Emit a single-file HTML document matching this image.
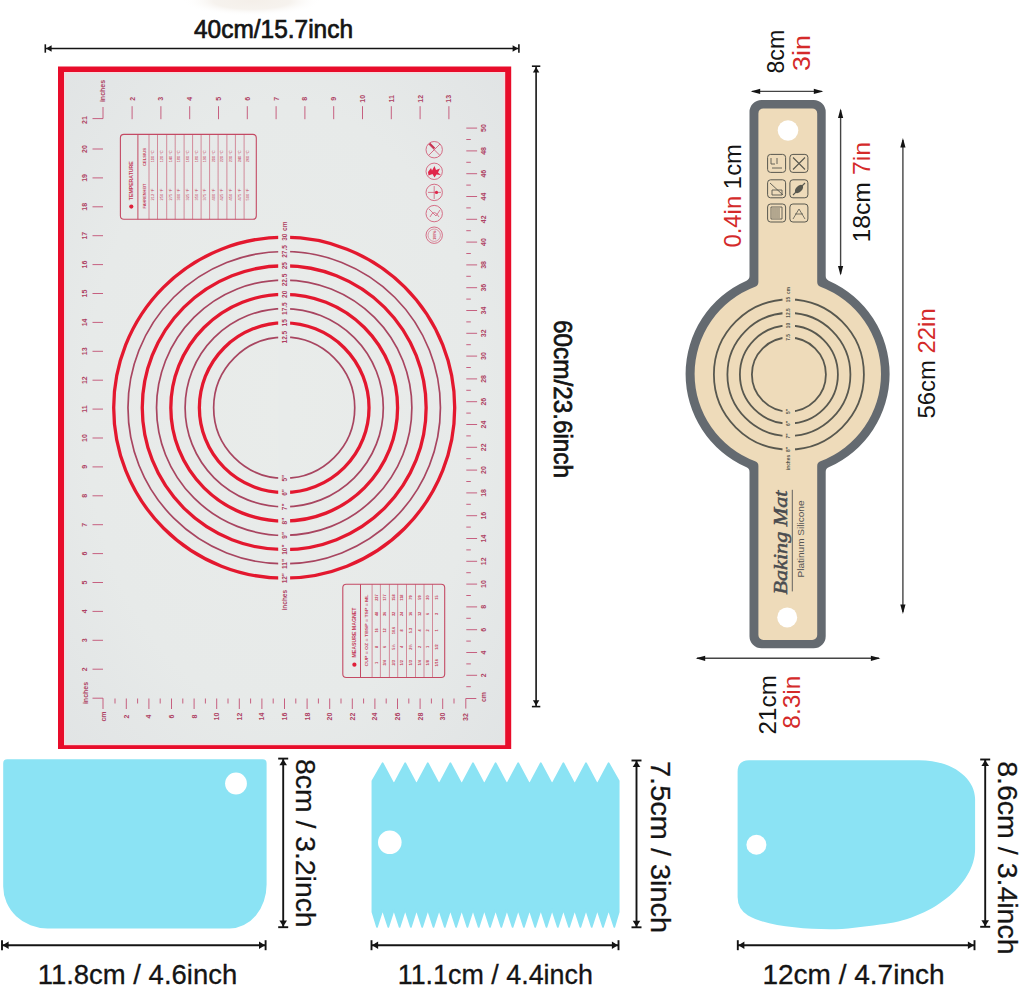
<!DOCTYPE html><html><head><meta charset="utf-8"><style>
html,body{margin:0;padding:0;background:#fff;}
body{width:1024px;height:991px;overflow:hidden;}
svg{display:block;font-family:'Liberation Sans', sans-serif;}
</style></head><body>
<svg width="1024" height="991" viewBox="0 0 1024 991">
<defs>
<radialGradient id="glow" cx="0.5" cy="0.5" r="0.5"><stop offset="0" stop-color="#f4efe9" stop-opacity="1"/><stop offset="0.55" stop-color="#f5f1ec" stop-opacity="0.9"/><stop offset="1" stop-color="#fff" stop-opacity="0"/></radialGradient>
<radialGradient id="matg" cx="0.5" cy="0.5" r="0.75"><stop offset="0" stop-color="#e9ecea"/><stop offset="0.6" stop-color="#e7eae9"/><stop offset="1" stop-color="#e0e3e4"/></radialGradient>
<marker id="ah" viewBox="0 0 10 10" refX="10" refY="5" markerWidth="6" markerHeight="6" orient="auto-start-reverse"><path d="M0,0L10,5L0,10z" fill="#141414"/></marker>
</defs>
<rect width="1024" height="991" fill="#fff"/>
<ellipse cx="252" cy="1" rx="70" ry="15" fill="url(#glow)"/>

<line x1="45.3" y1="48.5" x2="518.9" y2="48.5" stroke="#141414" stroke-width="1.6"/><path d="M46.099999999999994,48.5L51.599999999999994,45.3L51.599999999999994,51.7z" fill="#141414"/><path d="M518.1,48.5L512.6,45.3L512.6,51.7z" fill="#141414"/><line x1="45.3" y1="44.3" x2="45.3" y2="52.7" stroke="#141414" stroke-width="1.6"/><line x1="518.9" y1="44.3" x2="518.9" y2="52.7" stroke="#141414" stroke-width="1.6"/>
<text x="273.5" y="38" text-anchor="middle" font-size="25" fill="#141414" stroke="#141414" stroke-width="0.7" textLength="159" lengthAdjust="spacingAndGlyphs">40cm/15.7inch</text>
<line x1="536.1" y1="66.2" x2="536.1" y2="706.6" stroke="#141414" stroke-width="1.6"/><path d="M536.1,67.0L532.9,72.5L539.3000000000001,72.5z" fill="#141414"/><path d="M536.1,705.8000000000001L532.9,700.3000000000001L539.3000000000001,700.3000000000001z" fill="#141414"/><line x1="531.9" y1="66.2" x2="540.3000000000001" y2="66.2" stroke="#141414" stroke-width="1.6"/><line x1="531.9" y1="706.6" x2="540.3000000000001" y2="706.6" stroke="#141414" stroke-width="1.6"/>
<text transform="translate(562.50,399.00) rotate(90)" text-anchor="middle" dominant-baseline="central" font-size="25" font-weight="normal" fill="#141414" textLength="158" lengthAdjust="spacingAndGlyphs" stroke="#141414" stroke-width="0.7">60cm/23.6inch</text>
<rect x="58" y="66.5" width="453.2" height="682.5" fill="#e80c2a"/>
<rect x="64" y="72" width="441.1" height="673.1" fill="url(#matg)"/>
<rect x="64.8" y="72.8" width="439.5" height="671.5" fill="none" stroke="#f5dbe0" stroke-width="1.6"/>
<circle cx="284.2" cy="407.7" r="170.5" fill="none" stroke="#e3182f" stroke-width="3.3"/>
<circle cx="284.2" cy="407.7" r="156.22" fill="none" stroke="#a84560" stroke-width="1.7"/>
<circle cx="284.2" cy="407.7" r="141.94" fill="none" stroke="#e3182f" stroke-width="3.3"/>
<circle cx="284.2" cy="407.7" r="127.66" fill="none" stroke="#a84560" stroke-width="1.7"/>
<circle cx="284.2" cy="407.7" r="113.38" fill="none" stroke="#e3182f" stroke-width="3.3"/>
<circle cx="284.2" cy="407.7" r="99.10000000000001" fill="none" stroke="#a84560" stroke-width="1.7"/>
<circle cx="284.2" cy="407.7" r="84.82000000000001" fill="none" stroke="#e3182f" stroke-width="3.3"/>
<circle cx="284.2" cy="407.7" r="70.54" fill="none" stroke="#a84560" stroke-width="1.7"/>
<rect x="278.2" y="230" width="11.9" height="356" fill="#e8ebea"/>
<text transform="translate(284.20,237.20) rotate(-90)" text-anchor="middle" dominant-baseline="central" font-size="6.5" font-weight="bold" fill="#ae3f62" >30</text>
<text transform="translate(284.20,578.20) rotate(-90)" text-anchor="middle" dominant-baseline="central" font-size="6.5" font-weight="bold" fill="#ae3f62" >12"</text>
<text transform="translate(284.20,251.48) rotate(-90)" text-anchor="middle" dominant-baseline="central" font-size="6.5" font-weight="bold" fill="#ae3f62" >27.5</text>
<text transform="translate(284.20,563.92) rotate(-90)" text-anchor="middle" dominant-baseline="central" font-size="6.5" font-weight="bold" fill="#ae3f62" >11"</text>
<text transform="translate(284.20,265.76) rotate(-90)" text-anchor="middle" dominant-baseline="central" font-size="6.5" font-weight="bold" fill="#ae3f62" >25</text>
<text transform="translate(284.20,549.64) rotate(-90)" text-anchor="middle" dominant-baseline="central" font-size="6.5" font-weight="bold" fill="#ae3f62" >10"</text>
<text transform="translate(284.20,280.04) rotate(-90)" text-anchor="middle" dominant-baseline="central" font-size="6.5" font-weight="bold" fill="#ae3f62" >22.5</text>
<text transform="translate(284.20,535.36) rotate(-90)" text-anchor="middle" dominant-baseline="central" font-size="6.5" font-weight="bold" fill="#ae3f62" >9"</text>
<text transform="translate(284.20,294.32) rotate(-90)" text-anchor="middle" dominant-baseline="central" font-size="6.5" font-weight="bold" fill="#ae3f62" >20</text>
<text transform="translate(284.20,521.08) rotate(-90)" text-anchor="middle" dominant-baseline="central" font-size="6.5" font-weight="bold" fill="#ae3f62" >8"</text>
<text transform="translate(284.20,308.60) rotate(-90)" text-anchor="middle" dominant-baseline="central" font-size="6.5" font-weight="bold" fill="#ae3f62" >17.5</text>
<text transform="translate(284.20,506.80) rotate(-90)" text-anchor="middle" dominant-baseline="central" font-size="6.5" font-weight="bold" fill="#ae3f62" >7"</text>
<text transform="translate(284.20,322.88) rotate(-90)" text-anchor="middle" dominant-baseline="central" font-size="6.5" font-weight="bold" fill="#ae3f62" >15</text>
<text transform="translate(284.20,492.52) rotate(-90)" text-anchor="middle" dominant-baseline="central" font-size="6.5" font-weight="bold" fill="#ae3f62" >6"</text>
<text transform="translate(284.20,337.16) rotate(-90)" text-anchor="middle" dominant-baseline="central" font-size="6.5" font-weight="bold" fill="#ae3f62" >12.5</text>
<text transform="translate(284.20,478.24) rotate(-90)" text-anchor="middle" dominant-baseline="central" font-size="6.5" font-weight="bold" fill="#ae3f62" >5"</text>
<text transform="translate(284.20,226.20) rotate(-90)" text-anchor="middle" dominant-baseline="central" font-size="6.5" font-weight="bold" fill="#ae3f62" >cm</text>
<text transform="translate(284.20,600.20) rotate(-90)" text-anchor="middle" dominant-baseline="central" font-size="6.5" font-weight="bold" fill="#ae3f62" >inches</text>
<line x1="92.5" y1="669.2" x2="103" y2="669.2" stroke="#c4587a" stroke-width="0.95"/>
<text transform="translate(84.00,669.20) rotate(-90)" text-anchor="middle" dominant-baseline="central" font-size="7" font-weight="bold" fill="#ae3f62" >2</text>
<line x1="92.5" y1="640.3" x2="103" y2="640.3" stroke="#c4587a" stroke-width="0.95"/>
<text transform="translate(84.00,640.30) rotate(-90)" text-anchor="middle" dominant-baseline="central" font-size="7" font-weight="bold" fill="#ae3f62" >3</text>
<line x1="92.5" y1="611.4" x2="103" y2="611.4" stroke="#c4587a" stroke-width="0.95"/>
<text transform="translate(84.00,611.40) rotate(-90)" text-anchor="middle" dominant-baseline="central" font-size="7" font-weight="bold" fill="#ae3f62" >4</text>
<line x1="92.5" y1="582.5" x2="103" y2="582.5" stroke="#c4587a" stroke-width="0.95"/>
<text transform="translate(84.00,582.50) rotate(-90)" text-anchor="middle" dominant-baseline="central" font-size="7" font-weight="bold" fill="#ae3f62" >5</text>
<line x1="92.5" y1="553.6" x2="103" y2="553.6" stroke="#c4587a" stroke-width="0.95"/>
<text transform="translate(84.00,553.60) rotate(-90)" text-anchor="middle" dominant-baseline="central" font-size="7" font-weight="bold" fill="#ae3f62" >6</text>
<line x1="92.5" y1="524.7" x2="103" y2="524.7" stroke="#c4587a" stroke-width="0.95"/>
<text transform="translate(84.00,524.70) rotate(-90)" text-anchor="middle" dominant-baseline="central" font-size="7" font-weight="bold" fill="#ae3f62" >7</text>
<line x1="92.5" y1="495.8" x2="103" y2="495.8" stroke="#c4587a" stroke-width="0.95"/>
<text transform="translate(84.00,495.80) rotate(-90)" text-anchor="middle" dominant-baseline="central" font-size="7" font-weight="bold" fill="#ae3f62" >8</text>
<line x1="92.5" y1="466.9" x2="103" y2="466.9" stroke="#c4587a" stroke-width="0.95"/>
<text transform="translate(84.00,466.90) rotate(-90)" text-anchor="middle" dominant-baseline="central" font-size="7" font-weight="bold" fill="#ae3f62" >9</text>
<line x1="92.5" y1="438.0" x2="103" y2="438.0" stroke="#c4587a" stroke-width="0.95"/>
<text transform="translate(84.00,438.00) rotate(-90)" text-anchor="middle" dominant-baseline="central" font-size="7" font-weight="bold" fill="#ae3f62" >10</text>
<line x1="92.5" y1="409.1" x2="103" y2="409.1" stroke="#c4587a" stroke-width="0.95"/>
<text transform="translate(84.00,409.10) rotate(-90)" text-anchor="middle" dominant-baseline="central" font-size="7" font-weight="bold" fill="#ae3f62" >11</text>
<line x1="92.5" y1="380.2" x2="103" y2="380.2" stroke="#c4587a" stroke-width="0.95"/>
<text transform="translate(84.00,380.20) rotate(-90)" text-anchor="middle" dominant-baseline="central" font-size="7" font-weight="bold" fill="#ae3f62" >12</text>
<line x1="92.5" y1="351.3" x2="103" y2="351.3" stroke="#c4587a" stroke-width="0.95"/>
<text transform="translate(84.00,351.30) rotate(-90)" text-anchor="middle" dominant-baseline="central" font-size="7" font-weight="bold" fill="#ae3f62" >13</text>
<line x1="92.5" y1="322.4" x2="103" y2="322.4" stroke="#c4587a" stroke-width="0.95"/>
<text transform="translate(84.00,322.40) rotate(-90)" text-anchor="middle" dominant-baseline="central" font-size="7" font-weight="bold" fill="#ae3f62" >14</text>
<line x1="92.5" y1="293.5" x2="103" y2="293.5" stroke="#c4587a" stroke-width="0.95"/>
<text transform="translate(84.00,293.50) rotate(-90)" text-anchor="middle" dominant-baseline="central" font-size="7" font-weight="bold" fill="#ae3f62" >15</text>
<line x1="92.5" y1="264.6" x2="103" y2="264.6" stroke="#c4587a" stroke-width="0.95"/>
<text transform="translate(84.00,264.60) rotate(-90)" text-anchor="middle" dominant-baseline="central" font-size="7" font-weight="bold" fill="#ae3f62" >16</text>
<line x1="92.5" y1="235.7" x2="103" y2="235.7" stroke="#c4587a" stroke-width="0.95"/>
<text transform="translate(84.00,235.70) rotate(-90)" text-anchor="middle" dominant-baseline="central" font-size="7" font-weight="bold" fill="#ae3f62" >17</text>
<line x1="92.5" y1="206.8" x2="103" y2="206.8" stroke="#c4587a" stroke-width="0.95"/>
<text transform="translate(84.00,206.80) rotate(-90)" text-anchor="middle" dominant-baseline="central" font-size="7" font-weight="bold" fill="#ae3f62" >18</text>
<line x1="92.5" y1="177.9" x2="103" y2="177.9" stroke="#c4587a" stroke-width="0.95"/>
<text transform="translate(84.00,177.90) rotate(-90)" text-anchor="middle" dominant-baseline="central" font-size="7" font-weight="bold" fill="#ae3f62" >19</text>
<line x1="92.5" y1="149.0" x2="103" y2="149.0" stroke="#c4587a" stroke-width="0.95"/>
<text transform="translate(84.00,149.00) rotate(-90)" text-anchor="middle" dominant-baseline="central" font-size="7" font-weight="bold" fill="#ae3f62" >20</text>
<text transform="translate(84.00,120.10) rotate(-90)" text-anchor="middle" dominant-baseline="central" font-size="7" font-weight="bold" fill="#ae3f62" >21</text>
<line x1="132.1" y1="106.2" x2="132.1" y2="119.2" stroke="#c4587a" stroke-width="0.95"/>
<text transform="translate(132.10,98.80) rotate(-90)" text-anchor="middle" dominant-baseline="central" font-size="7" font-weight="bold" fill="#ae3f62" >2</text>
<line x1="160.9" y1="106.2" x2="160.9" y2="119.2" stroke="#c4587a" stroke-width="0.95"/>
<text transform="translate(160.90,98.80) rotate(-90)" text-anchor="middle" dominant-baseline="central" font-size="7" font-weight="bold" fill="#ae3f62" >3</text>
<line x1="189.7" y1="106.2" x2="189.7" y2="119.2" stroke="#c4587a" stroke-width="0.95"/>
<text transform="translate(189.70,98.80) rotate(-90)" text-anchor="middle" dominant-baseline="central" font-size="7" font-weight="bold" fill="#ae3f62" >4</text>
<line x1="218.5" y1="106.2" x2="218.5" y2="119.2" stroke="#c4587a" stroke-width="0.95"/>
<text transform="translate(218.50,98.80) rotate(-90)" text-anchor="middle" dominant-baseline="central" font-size="7" font-weight="bold" fill="#ae3f62" >5</text>
<line x1="247.3" y1="106.2" x2="247.3" y2="119.2" stroke="#c4587a" stroke-width="0.95"/>
<text transform="translate(247.30,98.80) rotate(-90)" text-anchor="middle" dominant-baseline="central" font-size="7" font-weight="bold" fill="#ae3f62" >6</text>
<line x1="276.1" y1="106.2" x2="276.1" y2="119.2" stroke="#c4587a" stroke-width="0.95"/>
<text transform="translate(276.10,98.80) rotate(-90)" text-anchor="middle" dominant-baseline="central" font-size="7" font-weight="bold" fill="#ae3f62" >7</text>
<line x1="304.9" y1="106.2" x2="304.9" y2="119.2" stroke="#c4587a" stroke-width="0.95"/>
<text transform="translate(304.90,98.80) rotate(-90)" text-anchor="middle" dominant-baseline="central" font-size="7" font-weight="bold" fill="#ae3f62" >8</text>
<line x1="333.7" y1="106.2" x2="333.7" y2="119.2" stroke="#c4587a" stroke-width="0.95"/>
<text transform="translate(333.70,98.80) rotate(-90)" text-anchor="middle" dominant-baseline="central" font-size="7" font-weight="bold" fill="#ae3f62" >9</text>
<line x1="362.5" y1="106.2" x2="362.5" y2="119.2" stroke="#c4587a" stroke-width="0.95"/>
<text transform="translate(362.50,98.80) rotate(-90)" text-anchor="middle" dominant-baseline="central" font-size="7" font-weight="bold" fill="#ae3f62" >10</text>
<line x1="391.3" y1="106.2" x2="391.3" y2="119.2" stroke="#c4587a" stroke-width="0.95"/>
<text transform="translate(391.30,98.80) rotate(-90)" text-anchor="middle" dominant-baseline="central" font-size="7" font-weight="bold" fill="#ae3f62" >11</text>
<line x1="420.1" y1="106.2" x2="420.1" y2="119.2" stroke="#c4587a" stroke-width="0.95"/>
<text transform="translate(420.10,98.80) rotate(-90)" text-anchor="middle" dominant-baseline="central" font-size="7" font-weight="bold" fill="#ae3f62" >12</text>
<line x1="448.9" y1="106.2" x2="448.9" y2="119.2" stroke="#c4587a" stroke-width="0.95"/>
<text transform="translate(448.90,98.80) rotate(-90)" text-anchor="middle" dominant-baseline="central" font-size="7" font-weight="bold" fill="#ae3f62" >13</text>
<path d="M92.5,118.6H103V107" fill="none" stroke="#c4587a" stroke-width="0.95"/>
<text transform="translate(102.00,91.00) rotate(-90)" text-anchor="middle" dominant-baseline="central" font-size="7" font-weight="bold" fill="#ae3f62" >inches</text>
<path d="M92.5,698.2H103V709" fill="none" stroke="#c4587a" stroke-width="0.95"/>
<text transform="translate(85.00,693.00) rotate(-90)" text-anchor="middle" dominant-baseline="central" font-size="7" font-weight="bold" fill="#ae3f62" >inches</text>
<text transform="translate(103.50,716.50) rotate(-90)" text-anchor="middle" dominant-baseline="central" font-size="7" font-weight="bold" fill="#ae3f62" >cm</text>
<line x1="115.0" y1="698.5" x2="115.0" y2="703.5" stroke="#c4587a" stroke-width="0.95"/>
<line x1="126.3" y1="698.5" x2="126.3" y2="709" stroke="#c4587a" stroke-width="0.95"/>
<text transform="translate(126.30,716.50) rotate(-90)" text-anchor="middle" dominant-baseline="central" font-size="7" font-weight="bold" fill="#ae3f62" >2</text>
<line x1="137.6" y1="698.5" x2="137.6" y2="703.5" stroke="#c4587a" stroke-width="0.95"/>
<line x1="148.9" y1="698.5" x2="148.9" y2="709" stroke="#c4587a" stroke-width="0.95"/>
<text transform="translate(148.90,716.50) rotate(-90)" text-anchor="middle" dominant-baseline="central" font-size="7" font-weight="bold" fill="#ae3f62" >4</text>
<line x1="160.2" y1="698.5" x2="160.2" y2="703.5" stroke="#c4587a" stroke-width="0.95"/>
<line x1="171.5" y1="698.5" x2="171.5" y2="709" stroke="#c4587a" stroke-width="0.95"/>
<text transform="translate(171.50,716.50) rotate(-90)" text-anchor="middle" dominant-baseline="central" font-size="7" font-weight="bold" fill="#ae3f62" >6</text>
<line x1="182.8" y1="698.5" x2="182.8" y2="703.5" stroke="#c4587a" stroke-width="0.95"/>
<line x1="194.1" y1="698.5" x2="194.1" y2="709" stroke="#c4587a" stroke-width="0.95"/>
<text transform="translate(194.10,716.50) rotate(-90)" text-anchor="middle" dominant-baseline="central" font-size="7" font-weight="bold" fill="#ae3f62" >8</text>
<line x1="205.4" y1="698.5" x2="205.4" y2="703.5" stroke="#c4587a" stroke-width="0.95"/>
<line x1="216.7" y1="698.5" x2="216.7" y2="709" stroke="#c4587a" stroke-width="0.95"/>
<text transform="translate(216.70,716.50) rotate(-90)" text-anchor="middle" dominant-baseline="central" font-size="7" font-weight="bold" fill="#ae3f62" >10</text>
<line x1="228.0" y1="698.5" x2="228.0" y2="703.5" stroke="#c4587a" stroke-width="0.95"/>
<line x1="239.3" y1="698.5" x2="239.3" y2="709" stroke="#c4587a" stroke-width="0.95"/>
<text transform="translate(239.30,716.50) rotate(-90)" text-anchor="middle" dominant-baseline="central" font-size="7" font-weight="bold" fill="#ae3f62" >12</text>
<line x1="250.6" y1="698.5" x2="250.6" y2="703.5" stroke="#c4587a" stroke-width="0.95"/>
<line x1="261.9" y1="698.5" x2="261.9" y2="709" stroke="#c4587a" stroke-width="0.95"/>
<text transform="translate(261.90,716.50) rotate(-90)" text-anchor="middle" dominant-baseline="central" font-size="7" font-weight="bold" fill="#ae3f62" >14</text>
<line x1="273.2" y1="698.5" x2="273.2" y2="703.5" stroke="#c4587a" stroke-width="0.95"/>
<line x1="284.5" y1="698.5" x2="284.5" y2="709" stroke="#c4587a" stroke-width="0.95"/>
<text transform="translate(284.50,716.50) rotate(-90)" text-anchor="middle" dominant-baseline="central" font-size="7" font-weight="bold" fill="#ae3f62" >16</text>
<line x1="295.8" y1="698.5" x2="295.8" y2="703.5" stroke="#c4587a" stroke-width="0.95"/>
<line x1="307.1" y1="698.5" x2="307.1" y2="709" stroke="#c4587a" stroke-width="0.95"/>
<text transform="translate(307.10,716.50) rotate(-90)" text-anchor="middle" dominant-baseline="central" font-size="7" font-weight="bold" fill="#ae3f62" >18</text>
<line x1="318.4" y1="698.5" x2="318.4" y2="703.5" stroke="#c4587a" stroke-width="0.95"/>
<line x1="329.7" y1="698.5" x2="329.7" y2="709" stroke="#c4587a" stroke-width="0.95"/>
<text transform="translate(329.70,716.50) rotate(-90)" text-anchor="middle" dominant-baseline="central" font-size="7" font-weight="bold" fill="#ae3f62" >20</text>
<line x1="341.0" y1="698.5" x2="341.0" y2="703.5" stroke="#c4587a" stroke-width="0.95"/>
<line x1="352.3" y1="698.5" x2="352.3" y2="709" stroke="#c4587a" stroke-width="0.95"/>
<text transform="translate(352.30,716.50) rotate(-90)" text-anchor="middle" dominant-baseline="central" font-size="7" font-weight="bold" fill="#ae3f62" >22</text>
<line x1="363.6" y1="698.5" x2="363.6" y2="703.5" stroke="#c4587a" stroke-width="0.95"/>
<line x1="374.9" y1="698.5" x2="374.9" y2="709" stroke="#c4587a" stroke-width="0.95"/>
<text transform="translate(374.90,716.50) rotate(-90)" text-anchor="middle" dominant-baseline="central" font-size="7" font-weight="bold" fill="#ae3f62" >24</text>
<line x1="386.2" y1="698.5" x2="386.2" y2="703.5" stroke="#c4587a" stroke-width="0.95"/>
<line x1="397.5" y1="698.5" x2="397.5" y2="709" stroke="#c4587a" stroke-width="0.95"/>
<text transform="translate(397.50,716.50) rotate(-90)" text-anchor="middle" dominant-baseline="central" font-size="7" font-weight="bold" fill="#ae3f62" >26</text>
<line x1="408.8" y1="698.5" x2="408.8" y2="703.5" stroke="#c4587a" stroke-width="0.95"/>
<line x1="420.1" y1="698.5" x2="420.1" y2="709" stroke="#c4587a" stroke-width="0.95"/>
<text transform="translate(420.10,716.50) rotate(-90)" text-anchor="middle" dominant-baseline="central" font-size="7" font-weight="bold" fill="#ae3f62" >28</text>
<line x1="431.4" y1="698.5" x2="431.4" y2="703.5" stroke="#c4587a" stroke-width="0.95"/>
<line x1="442.7" y1="698.5" x2="442.7" y2="709" stroke="#c4587a" stroke-width="0.95"/>
<text transform="translate(442.70,716.50) rotate(-90)" text-anchor="middle" dominant-baseline="central" font-size="7" font-weight="bold" fill="#ae3f62" >30</text>
<line x1="454.0" y1="698.5" x2="454.0" y2="703.5" stroke="#c4587a" stroke-width="0.95"/>
<path d="M465.8,708.6V698.5H476.3" fill="none" stroke="#c4587a" stroke-width="0.95"/>
<text transform="translate(465.50,717.00) rotate(-90)" text-anchor="middle" dominant-baseline="central" font-size="7" font-weight="bold" fill="#ae3f62" >32</text>
<text transform="translate(483.00,697.00) rotate(-90)" text-anchor="middle" dominant-baseline="central" font-size="7" font-weight="bold" fill="#ae3f62" >cm</text>
<line x1="466.3" y1="686.7" x2="470.8" y2="686.7" stroke="#c4587a" stroke-width="0.95"/>
<line x1="466.3" y1="675.3" x2="477.1" y2="675.3" stroke="#c4587a" stroke-width="0.95"/>
<text transform="translate(483.50,675.30) rotate(-90)" text-anchor="middle" dominant-baseline="central" font-size="7" font-weight="bold" fill="#ae3f62" >2</text>
<line x1="466.3" y1="663.9" x2="470.8" y2="663.9" stroke="#c4587a" stroke-width="0.95"/>
<line x1="466.3" y1="652.5" x2="477.1" y2="652.5" stroke="#c4587a" stroke-width="0.95"/>
<text transform="translate(483.50,652.50) rotate(-90)" text-anchor="middle" dominant-baseline="central" font-size="7" font-weight="bold" fill="#ae3f62" >4</text>
<line x1="466.3" y1="641.1" x2="470.8" y2="641.1" stroke="#c4587a" stroke-width="0.95"/>
<line x1="466.3" y1="629.7" x2="477.1" y2="629.7" stroke="#c4587a" stroke-width="0.95"/>
<text transform="translate(483.50,629.70) rotate(-90)" text-anchor="middle" dominant-baseline="central" font-size="7" font-weight="bold" fill="#ae3f62" >6</text>
<line x1="466.3" y1="618.3" x2="470.8" y2="618.3" stroke="#c4587a" stroke-width="0.95"/>
<line x1="466.3" y1="606.9" x2="477.1" y2="606.9" stroke="#c4587a" stroke-width="0.95"/>
<text transform="translate(483.50,606.90) rotate(-90)" text-anchor="middle" dominant-baseline="central" font-size="7" font-weight="bold" fill="#ae3f62" >8</text>
<line x1="466.3" y1="595.5" x2="470.8" y2="595.5" stroke="#c4587a" stroke-width="0.95"/>
<line x1="466.3" y1="584.1" x2="477.1" y2="584.1" stroke="#c4587a" stroke-width="0.95"/>
<text transform="translate(483.50,584.10) rotate(-90)" text-anchor="middle" dominant-baseline="central" font-size="7" font-weight="bold" fill="#ae3f62" >10</text>
<line x1="466.3" y1="572.7" x2="470.8" y2="572.7" stroke="#c4587a" stroke-width="0.95"/>
<line x1="466.3" y1="561.3" x2="477.1" y2="561.3" stroke="#c4587a" stroke-width="0.95"/>
<text transform="translate(483.50,561.30) rotate(-90)" text-anchor="middle" dominant-baseline="central" font-size="7" font-weight="bold" fill="#ae3f62" >12</text>
<line x1="466.3" y1="549.9" x2="470.8" y2="549.9" stroke="#c4587a" stroke-width="0.95"/>
<line x1="466.3" y1="538.5" x2="477.1" y2="538.5" stroke="#c4587a" stroke-width="0.95"/>
<text transform="translate(483.50,538.50) rotate(-90)" text-anchor="middle" dominant-baseline="central" font-size="7" font-weight="bold" fill="#ae3f62" >14</text>
<line x1="466.3" y1="527.1" x2="470.8" y2="527.1" stroke="#c4587a" stroke-width="0.95"/>
<line x1="466.3" y1="515.7" x2="477.1" y2="515.7" stroke="#c4587a" stroke-width="0.95"/>
<text transform="translate(483.50,515.70) rotate(-90)" text-anchor="middle" dominant-baseline="central" font-size="7" font-weight="bold" fill="#ae3f62" >16</text>
<line x1="466.3" y1="504.3" x2="470.8" y2="504.3" stroke="#c4587a" stroke-width="0.95"/>
<line x1="466.3" y1="492.9" x2="477.1" y2="492.9" stroke="#c4587a" stroke-width="0.95"/>
<text transform="translate(483.50,492.90) rotate(-90)" text-anchor="middle" dominant-baseline="central" font-size="7" font-weight="bold" fill="#ae3f62" >18</text>
<line x1="466.3" y1="481.5" x2="470.8" y2="481.5" stroke="#c4587a" stroke-width="0.95"/>
<line x1="466.3" y1="470.1" x2="477.1" y2="470.1" stroke="#c4587a" stroke-width="0.95"/>
<text transform="translate(483.50,470.10) rotate(-90)" text-anchor="middle" dominant-baseline="central" font-size="7" font-weight="bold" fill="#ae3f62" >20</text>
<line x1="466.3" y1="458.7" x2="470.8" y2="458.7" stroke="#c4587a" stroke-width="0.95"/>
<line x1="466.3" y1="447.3" x2="477.1" y2="447.3" stroke="#c4587a" stroke-width="0.95"/>
<text transform="translate(483.50,447.30) rotate(-90)" text-anchor="middle" dominant-baseline="central" font-size="7" font-weight="bold" fill="#ae3f62" >22</text>
<line x1="466.3" y1="435.9" x2="470.8" y2="435.9" stroke="#c4587a" stroke-width="0.95"/>
<line x1="466.3" y1="424.5" x2="477.1" y2="424.5" stroke="#c4587a" stroke-width="0.95"/>
<text transform="translate(483.50,424.50) rotate(-90)" text-anchor="middle" dominant-baseline="central" font-size="7" font-weight="bold" fill="#ae3f62" >24</text>
<line x1="466.3" y1="413.1" x2="470.8" y2="413.1" stroke="#c4587a" stroke-width="0.95"/>
<line x1="466.3" y1="401.7" x2="477.1" y2="401.7" stroke="#c4587a" stroke-width="0.95"/>
<text transform="translate(483.50,401.70) rotate(-90)" text-anchor="middle" dominant-baseline="central" font-size="7" font-weight="bold" fill="#ae3f62" >26</text>
<line x1="466.3" y1="390.3" x2="470.8" y2="390.3" stroke="#c4587a" stroke-width="0.95"/>
<line x1="466.3" y1="378.9" x2="477.1" y2="378.9" stroke="#c4587a" stroke-width="0.95"/>
<text transform="translate(483.50,378.90) rotate(-90)" text-anchor="middle" dominant-baseline="central" font-size="7" font-weight="bold" fill="#ae3f62" >28</text>
<line x1="466.3" y1="367.5" x2="470.8" y2="367.5" stroke="#c4587a" stroke-width="0.95"/>
<line x1="466.3" y1="356.1" x2="477.1" y2="356.1" stroke="#c4587a" stroke-width="0.95"/>
<text transform="translate(483.50,356.10) rotate(-90)" text-anchor="middle" dominant-baseline="central" font-size="7" font-weight="bold" fill="#ae3f62" >30</text>
<line x1="466.3" y1="344.7" x2="470.8" y2="344.7" stroke="#c4587a" stroke-width="0.95"/>
<line x1="466.3" y1="333.3" x2="477.1" y2="333.3" stroke="#c4587a" stroke-width="0.95"/>
<text transform="translate(483.50,333.30) rotate(-90)" text-anchor="middle" dominant-baseline="central" font-size="7" font-weight="bold" fill="#ae3f62" >32</text>
<line x1="466.3" y1="321.9" x2="470.8" y2="321.9" stroke="#c4587a" stroke-width="0.95"/>
<line x1="466.3" y1="310.5" x2="477.1" y2="310.5" stroke="#c4587a" stroke-width="0.95"/>
<text transform="translate(483.50,310.50) rotate(-90)" text-anchor="middle" dominant-baseline="central" font-size="7" font-weight="bold" fill="#ae3f62" >34</text>
<line x1="466.3" y1="299.1" x2="470.8" y2="299.1" stroke="#c4587a" stroke-width="0.95"/>
<line x1="466.3" y1="287.7" x2="477.1" y2="287.7" stroke="#c4587a" stroke-width="0.95"/>
<text transform="translate(483.50,287.70) rotate(-90)" text-anchor="middle" dominant-baseline="central" font-size="7" font-weight="bold" fill="#ae3f62" >36</text>
<line x1="466.3" y1="276.3" x2="470.8" y2="276.3" stroke="#c4587a" stroke-width="0.95"/>
<line x1="466.3" y1="264.9" x2="477.1" y2="264.9" stroke="#c4587a" stroke-width="0.95"/>
<text transform="translate(483.50,264.90) rotate(-90)" text-anchor="middle" dominant-baseline="central" font-size="7" font-weight="bold" fill="#ae3f62" >38</text>
<line x1="466.3" y1="253.5" x2="470.8" y2="253.5" stroke="#c4587a" stroke-width="0.95"/>
<line x1="466.3" y1="242.1" x2="477.1" y2="242.1" stroke="#c4587a" stroke-width="0.95"/>
<text transform="translate(483.50,242.10) rotate(-90)" text-anchor="middle" dominant-baseline="central" font-size="7" font-weight="bold" fill="#ae3f62" >40</text>
<line x1="466.3" y1="230.7" x2="470.8" y2="230.7" stroke="#c4587a" stroke-width="0.95"/>
<line x1="466.3" y1="219.3" x2="477.1" y2="219.3" stroke="#c4587a" stroke-width="0.95"/>
<text transform="translate(483.50,219.30) rotate(-90)" text-anchor="middle" dominant-baseline="central" font-size="7" font-weight="bold" fill="#ae3f62" >42</text>
<line x1="466.3" y1="207.9" x2="470.8" y2="207.9" stroke="#c4587a" stroke-width="0.95"/>
<line x1="466.3" y1="196.5" x2="477.1" y2="196.5" stroke="#c4587a" stroke-width="0.95"/>
<text transform="translate(483.50,196.50) rotate(-90)" text-anchor="middle" dominant-baseline="central" font-size="7" font-weight="bold" fill="#ae3f62" >44</text>
<line x1="466.3" y1="185.1" x2="470.8" y2="185.1" stroke="#c4587a" stroke-width="0.95"/>
<line x1="466.3" y1="173.7" x2="477.1" y2="173.7" stroke="#c4587a" stroke-width="0.95"/>
<text transform="translate(483.50,173.70) rotate(-90)" text-anchor="middle" dominant-baseline="central" font-size="7" font-weight="bold" fill="#ae3f62" >46</text>
<line x1="466.3" y1="162.3" x2="470.8" y2="162.3" stroke="#c4587a" stroke-width="0.95"/>
<line x1="466.3" y1="150.9" x2="477.1" y2="150.9" stroke="#c4587a" stroke-width="0.95"/>
<text transform="translate(483.50,150.90) rotate(-90)" text-anchor="middle" dominant-baseline="central" font-size="7" font-weight="bold" fill="#ae3f62" >48</text>
<line x1="466.3" y1="139.5" x2="470.8" y2="139.5" stroke="#c4587a" stroke-width="0.95"/>
<line x1="466.3" y1="128.1" x2="477.1" y2="128.1" stroke="#c4587a" stroke-width="0.95"/>
<text transform="translate(483.50,128.10) rotate(-90)" text-anchor="middle" dominant-baseline="central" font-size="7" font-weight="bold" fill="#ae3f62" >50</text>
<rect x="120.4" y="134.4" width="135.9" height="84.9" rx="3.5" fill="none" stroke="#c44a64" stroke-width="1.1"/>
<line x1="137.9" y1="134.4" x2="137.9" y2="219.3" stroke="#c44a64" stroke-width="1.0"/>
<line x1="149" y1="134.4" x2="149" y2="219.3" stroke="#c44a64" stroke-width="0.6"/>
<line x1="157.5" y1="134.4" x2="157.5" y2="219.3" stroke="#c44a64" stroke-width="0.6"/>
<line x1="166.7" y1="134.4" x2="166.7" y2="219.3" stroke="#c44a64" stroke-width="0.6"/>
<line x1="175.2" y1="134.4" x2="175.2" y2="219.3" stroke="#c44a64" stroke-width="0.6"/>
<line x1="184.1" y1="134.4" x2="184.1" y2="219.3" stroke="#c44a64" stroke-width="0.6"/>
<line x1="192.6" y1="134.4" x2="192.6" y2="219.3" stroke="#c44a64" stroke-width="0.6"/>
<line x1="201.1" y1="134.4" x2="201.1" y2="219.3" stroke="#c44a64" stroke-width="0.6"/>
<line x1="209.6" y1="134.4" x2="209.6" y2="219.3" stroke="#c44a64" stroke-width="0.6"/>
<line x1="218.1" y1="134.4" x2="218.1" y2="219.3" stroke="#c44a64" stroke-width="0.6"/>
<line x1="226.9" y1="134.4" x2="226.9" y2="219.3" stroke="#c44a64" stroke-width="0.6"/>
<line x1="235.4" y1="134.4" x2="235.4" y2="219.3" stroke="#c44a64" stroke-width="0.6"/>
<line x1="244.1" y1="134.4" x2="244.1" y2="219.3" stroke="#c44a64" stroke-width="0.6"/>
<circle cx="131.3" cy="206.6" r="2.1" fill="#e0203a"/>
<text transform="translate(131.30,180.70) rotate(-90)" text-anchor="middle" dominant-baseline="central" font-size="5.2" font-weight="bold" fill="#c43a58" textLength="39" lengthAdjust="spacingAndGlyphs" >TEMPERATURE</text>
<text transform="translate(144.70,196.00) rotate(-90)" text-anchor="middle" dominant-baseline="central" font-size="3.6" font-weight="bold" fill="#c43a58" textLength="25" lengthAdjust="spacingAndGlyphs" >FAHRENHEIT</text>
<text transform="translate(144.70,157.00) rotate(-90)" text-anchor="middle" dominant-baseline="central" font-size="3.6" font-weight="bold" fill="#c43a58" textLength="18" lengthAdjust="spacingAndGlyphs" >CELSIUS</text>
<text transform="translate(153.20,194.60) rotate(-90)" text-anchor="middle" dominant-baseline="central" font-size="3.6" font-weight="normal" fill="#c43a58" textLength="12" lengthAdjust="spacingAndGlyphs" >212 °F</text>
<text transform="translate(153.20,156.30) rotate(-90)" text-anchor="middle" dominant-baseline="central" font-size="3.6" font-weight="normal" fill="#c43a58" textLength="12" lengthAdjust="spacingAndGlyphs" >100 °C</text>
<text transform="translate(162.00,194.60) rotate(-90)" text-anchor="middle" dominant-baseline="central" font-size="3.6" font-weight="normal" fill="#c43a58" textLength="12" lengthAdjust="spacingAndGlyphs" >250 °F</text>
<text transform="translate(162.00,156.30) rotate(-90)" text-anchor="middle" dominant-baseline="central" font-size="3.6" font-weight="normal" fill="#c43a58" textLength="12" lengthAdjust="spacingAndGlyphs" >120 °C</text>
<text transform="translate(170.50,194.60) rotate(-90)" text-anchor="middle" dominant-baseline="central" font-size="3.6" font-weight="normal" fill="#c43a58" textLength="12" lengthAdjust="spacingAndGlyphs" >275 °F</text>
<text transform="translate(170.50,156.30) rotate(-90)" text-anchor="middle" dominant-baseline="central" font-size="3.6" font-weight="normal" fill="#c43a58" textLength="12" lengthAdjust="spacingAndGlyphs" >140 °C</text>
<text transform="translate(179.40,194.60) rotate(-90)" text-anchor="middle" dominant-baseline="central" font-size="3.6" font-weight="normal" fill="#c43a58" textLength="12" lengthAdjust="spacingAndGlyphs" >300 °F</text>
<text transform="translate(179.40,156.30) rotate(-90)" text-anchor="middle" dominant-baseline="central" font-size="3.6" font-weight="normal" fill="#c43a58" textLength="12" lengthAdjust="spacingAndGlyphs" >180 °C</text>
<text transform="translate(188.20,194.60) rotate(-90)" text-anchor="middle" dominant-baseline="central" font-size="3.6" font-weight="normal" fill="#c43a58" textLength="12" lengthAdjust="spacingAndGlyphs" >325 °F</text>
<text transform="translate(188.20,156.30) rotate(-90)" text-anchor="middle" dominant-baseline="central" font-size="3.6" font-weight="normal" fill="#c43a58" textLength="12" lengthAdjust="spacingAndGlyphs" >160 °C</text>
<text transform="translate(196.70,194.60) rotate(-90)" text-anchor="middle" dominant-baseline="central" font-size="3.6" font-weight="normal" fill="#c43a58" textLength="12" lengthAdjust="spacingAndGlyphs" >350 °F</text>
<text transform="translate(196.70,156.30) rotate(-90)" text-anchor="middle" dominant-baseline="central" font-size="3.6" font-weight="normal" fill="#c43a58" textLength="12" lengthAdjust="spacingAndGlyphs" >180 °C</text>
<text transform="translate(205.20,194.60) rotate(-90)" text-anchor="middle" dominant-baseline="central" font-size="3.6" font-weight="normal" fill="#c43a58" textLength="12" lengthAdjust="spacingAndGlyphs" >375 °F</text>
<text transform="translate(205.20,156.30) rotate(-90)" text-anchor="middle" dominant-baseline="central" font-size="3.6" font-weight="normal" fill="#c43a58" textLength="12" lengthAdjust="spacingAndGlyphs" >190 °C</text>
<text transform="translate(213.70,194.60) rotate(-90)" text-anchor="middle" dominant-baseline="central" font-size="3.6" font-weight="normal" fill="#c43a58" textLength="12" lengthAdjust="spacingAndGlyphs" >400 °F</text>
<text transform="translate(213.70,156.30) rotate(-90)" text-anchor="middle" dominant-baseline="central" font-size="3.6" font-weight="normal" fill="#c43a58" textLength="12" lengthAdjust="spacingAndGlyphs" >200 °C</text>
<text transform="translate(222.20,194.60) rotate(-90)" text-anchor="middle" dominant-baseline="central" font-size="3.6" font-weight="normal" fill="#c43a58" textLength="12" lengthAdjust="spacingAndGlyphs" >425 °F</text>
<text transform="translate(222.20,156.30) rotate(-90)" text-anchor="middle" dominant-baseline="central" font-size="3.6" font-weight="normal" fill="#c43a58" textLength="12" lengthAdjust="spacingAndGlyphs" >220 °C</text>
<text transform="translate(230.80,194.60) rotate(-90)" text-anchor="middle" dominant-baseline="central" font-size="3.6" font-weight="normal" fill="#c43a58" textLength="12" lengthAdjust="spacingAndGlyphs" >450 °F</text>
<text transform="translate(230.80,156.30) rotate(-90)" text-anchor="middle" dominant-baseline="central" font-size="3.6" font-weight="normal" fill="#c43a58" textLength="12" lengthAdjust="spacingAndGlyphs" >230 °C</text>
<text transform="translate(239.60,194.60) rotate(-90)" text-anchor="middle" dominant-baseline="central" font-size="3.6" font-weight="normal" fill="#c43a58" textLength="12" lengthAdjust="spacingAndGlyphs" >475 °F</text>
<text transform="translate(239.60,156.30) rotate(-90)" text-anchor="middle" dominant-baseline="central" font-size="3.6" font-weight="normal" fill="#c43a58" textLength="12" lengthAdjust="spacingAndGlyphs" >240 °C</text>
<text transform="translate(248.10,194.60) rotate(-90)" text-anchor="middle" dominant-baseline="central" font-size="3.6" font-weight="normal" fill="#c43a58" textLength="12" lengthAdjust="spacingAndGlyphs" >500 °F</text>
<text transform="translate(248.10,156.30) rotate(-90)" text-anchor="middle" dominant-baseline="central" font-size="3.6" font-weight="normal" fill="#c43a58" textLength="12" lengthAdjust="spacingAndGlyphs" >260 °C</text>
<rect x="342.8" y="584.2" width="101.9" height="93.3" rx="3.5" fill="none" stroke="#c44a64" stroke-width="1.1"/>
<line x1="360.5" y1="584.2" x2="360.5" y2="677.5" stroke="#c44a64" stroke-width="1.0"/>
<line x1="372.1" y1="584.2" x2="372.1" y2="677.5" stroke="#c44a64" stroke-width="0.6"/>
<line x1="380.4" y1="584.2" x2="380.4" y2="677.5" stroke="#c44a64" stroke-width="0.6"/>
<line x1="389.4" y1="584.2" x2="389.4" y2="677.5" stroke="#c44a64" stroke-width="0.6"/>
<line x1="397.7" y1="584.2" x2="397.7" y2="677.5" stroke="#c44a64" stroke-width="0.6"/>
<line x1="406.5" y1="584.2" x2="406.5" y2="677.5" stroke="#c44a64" stroke-width="0.6"/>
<line x1="415.5" y1="584.2" x2="415.5" y2="677.5" stroke="#c44a64" stroke-width="0.6"/>
<line x1="424" y1="584.2" x2="424" y2="677.5" stroke="#c44a64" stroke-width="0.6"/>
<line x1="432.5" y1="584.2" x2="432.5" y2="677.5" stroke="#c44a64" stroke-width="0.6"/>
<circle cx="354.4" cy="664.7" r="2.1" fill="#e0203a"/>
<text transform="translate(354.40,632.60) rotate(-90)" text-anchor="middle" dominant-baseline="central" font-size="5" font-weight="bold" fill="#c43a58" textLength="50" lengthAdjust="spacingAndGlyphs" >MEASURE MAGNET</text>
<text transform="translate(367.20,630.50) rotate(-90)" text-anchor="middle" dominant-baseline="central" font-size="3.6" font-weight="bold" fill="#c43a58" textLength="72" lengthAdjust="spacingAndGlyphs" >CUP = OZ = TBSP = TSP = ML</text>
<text transform="translate(377.00,662.90) rotate(-90)" text-anchor="middle" dominant-baseline="central" font-size="3.8" font-weight="bold" fill="#c43a58" >1</text>
<text transform="translate(377.00,647.00) rotate(-90)" text-anchor="middle" dominant-baseline="central" font-size="3.8" font-weight="bold" fill="#c43a58" >8</text>
<text transform="translate(377.00,630.50) rotate(-90)" text-anchor="middle" dominant-baseline="central" font-size="3.8" font-weight="bold" fill="#c43a58" >16</text>
<text transform="translate(377.00,614.00) rotate(-90)" text-anchor="middle" dominant-baseline="central" font-size="3.8" font-weight="bold" fill="#c43a58" >48</text>
<text transform="translate(377.00,597.60) rotate(-90)" text-anchor="middle" dominant-baseline="central" font-size="3.8" font-weight="bold" fill="#c43a58" >237</text>
<text transform="translate(384.90,662.90) rotate(-90)" text-anchor="middle" dominant-baseline="central" font-size="3.8" font-weight="bold" fill="#c43a58" >3/4</text>
<text transform="translate(384.90,647.00) rotate(-90)" text-anchor="middle" dominant-baseline="central" font-size="3.8" font-weight="bold" fill="#c43a58" >6</text>
<text transform="translate(384.90,630.50) rotate(-90)" text-anchor="middle" dominant-baseline="central" font-size="3.8" font-weight="bold" fill="#c43a58" >12</text>
<text transform="translate(384.90,614.00) rotate(-90)" text-anchor="middle" dominant-baseline="central" font-size="3.8" font-weight="bold" fill="#c43a58" >36</text>
<text transform="translate(384.90,597.60) rotate(-90)" text-anchor="middle" dominant-baseline="central" font-size="3.8" font-weight="bold" fill="#c43a58" >177</text>
<text transform="translate(393.50,662.90) rotate(-90)" text-anchor="middle" dominant-baseline="central" font-size="3.8" font-weight="bold" fill="#c43a58" >2/3</text>
<text transform="translate(393.50,647.00) rotate(-90)" text-anchor="middle" dominant-baseline="central" font-size="3.8" font-weight="bold" fill="#c43a58" >5⅓</text>
<text transform="translate(393.50,630.50) rotate(-90)" text-anchor="middle" dominant-baseline="central" font-size="3.8" font-weight="bold" fill="#c43a58" >10.6</text>
<text transform="translate(393.50,614.00) rotate(-90)" text-anchor="middle" dominant-baseline="central" font-size="3.8" font-weight="bold" fill="#c43a58" >32</text>
<text transform="translate(393.50,597.60) rotate(-90)" text-anchor="middle" dominant-baseline="central" font-size="3.8" font-weight="bold" fill="#c43a58" >158</text>
<text transform="translate(402.00,662.90) rotate(-90)" text-anchor="middle" dominant-baseline="central" font-size="3.8" font-weight="bold" fill="#c43a58" >1/2</text>
<text transform="translate(402.00,647.00) rotate(-90)" text-anchor="middle" dominant-baseline="central" font-size="3.8" font-weight="bold" fill="#c43a58" >4</text>
<text transform="translate(402.00,630.50) rotate(-90)" text-anchor="middle" dominant-baseline="central" font-size="3.8" font-weight="bold" fill="#c43a58" >8</text>
<text transform="translate(402.00,614.00) rotate(-90)" text-anchor="middle" dominant-baseline="central" font-size="3.8" font-weight="bold" fill="#c43a58" >24</text>
<text transform="translate(402.00,597.60) rotate(-90)" text-anchor="middle" dominant-baseline="central" font-size="3.8" font-weight="bold" fill="#c43a58" >118</text>
<text transform="translate(410.60,662.90) rotate(-90)" text-anchor="middle" dominant-baseline="central" font-size="3.8" font-weight="bold" fill="#c43a58" >1/3</text>
<text transform="translate(410.60,647.00) rotate(-90)" text-anchor="middle" dominant-baseline="central" font-size="3.8" font-weight="bold" fill="#c43a58" >2⅔</text>
<text transform="translate(410.60,630.50) rotate(-90)" text-anchor="middle" dominant-baseline="central" font-size="3.8" font-weight="bold" fill="#c43a58" >5.3</text>
<text transform="translate(410.60,614.00) rotate(-90)" text-anchor="middle" dominant-baseline="central" font-size="3.8" font-weight="bold" fill="#c43a58" >16</text>
<text transform="translate(410.60,597.60) rotate(-90)" text-anchor="middle" dominant-baseline="central" font-size="3.8" font-weight="bold" fill="#c43a58" >79</text>
<text transform="translate(419.70,662.90) rotate(-90)" text-anchor="middle" dominant-baseline="central" font-size="3.8" font-weight="bold" fill="#c43a58" >1/4</text>
<text transform="translate(419.70,647.00) rotate(-90)" text-anchor="middle" dominant-baseline="central" font-size="3.8" font-weight="bold" fill="#c43a58" >2</text>
<text transform="translate(419.70,630.50) rotate(-90)" text-anchor="middle" dominant-baseline="central" font-size="3.8" font-weight="bold" fill="#c43a58" >4</text>
<text transform="translate(419.70,614.00) rotate(-90)" text-anchor="middle" dominant-baseline="central" font-size="3.8" font-weight="bold" fill="#c43a58" >12</text>
<text transform="translate(419.70,597.60) rotate(-90)" text-anchor="middle" dominant-baseline="central" font-size="3.8" font-weight="bold" fill="#c43a58" >59</text>
<text transform="translate(428.30,662.90) rotate(-90)" text-anchor="middle" dominant-baseline="central" font-size="3.8" font-weight="bold" fill="#c43a58" >1/8</text>
<text transform="translate(428.30,647.00) rotate(-90)" text-anchor="middle" dominant-baseline="central" font-size="3.8" font-weight="bold" fill="#c43a58" >1</text>
<text transform="translate(428.30,630.50) rotate(-90)" text-anchor="middle" dominant-baseline="central" font-size="3.8" font-weight="bold" fill="#c43a58" >2</text>
<text transform="translate(428.30,614.00) rotate(-90)" text-anchor="middle" dominant-baseline="central" font-size="3.8" font-weight="bold" fill="#c43a58" >6</text>
<text transform="translate(428.30,597.60) rotate(-90)" text-anchor="middle" dominant-baseline="central" font-size="3.8" font-weight="bold" fill="#c43a58" >30</text>
<text transform="translate(436.80,662.90) rotate(-90)" text-anchor="middle" dominant-baseline="central" font-size="3.8" font-weight="bold" fill="#c43a58" >1/16</text>
<text transform="translate(436.80,647.00) rotate(-90)" text-anchor="middle" dominant-baseline="central" font-size="3.8" font-weight="bold" fill="#c43a58" >1/2</text>
<text transform="translate(436.80,630.50) rotate(-90)" text-anchor="middle" dominant-baseline="central" font-size="3.8" font-weight="bold" fill="#c43a58" >1</text>
<text transform="translate(436.80,614.00) rotate(-90)" text-anchor="middle" dominant-baseline="central" font-size="3.8" font-weight="bold" fill="#c43a58" >3</text>
<text transform="translate(436.80,597.60) rotate(-90)" text-anchor="middle" dominant-baseline="central" font-size="3.8" font-weight="bold" fill="#c43a58" >15</text>
<circle cx="434.2" cy="149.7" r="8.2" fill="none" stroke="#d2607a" stroke-width="0.9"/>
<circle cx="434.2" cy="171.3" r="8.2" fill="none" stroke="#d2607a" stroke-width="0.9"/>
<circle cx="434.2" cy="192.4" r="8.2" fill="none" stroke="#d2607a" stroke-width="0.9"/>
<circle cx="434.2" cy="213.6" r="8.2" fill="none" stroke="#d2607a" stroke-width="0.9"/>
<circle cx="434.2" cy="235.2" r="8.2" fill="none" stroke="#d2607a" stroke-width="0.9"/>
<path d="M428.5,144L440,155.5M440,144L428.5,155.5" stroke="#d2607a" stroke-width="0.9"/><path d="M429.5,143.5L434.5,148.5" stroke="#c8304e" stroke-width="2"/>
<path d="M428,172L431,168L432,170.5L434.5,166L436,170L440,168.5L438,172.5L441,175L436.5,174.5L434.5,177.5L432.5,174L428.5,175.5Z" fill="#e0264a"/>
<path d="M428,192.4H441M434.2,186V199" stroke="#d2607a" stroke-width="0.8"/><circle cx="436.5" cy="192.4" r="1.6" fill="#e0264a"/>
<path d="M429,209L436,216L440,210M430,217Q434,208 439,217" stroke="#d2607a" stroke-width="0.8" fill="none"/>
<circle cx="434.2" cy="235.2" r="6.2" fill="none" stroke="#d2607a" stroke-width="0.6"/>
<text transform="translate(434.60,235.20) rotate(-90)" text-anchor="middle" dominant-baseline="central" font-size="4.2" font-weight="bold" fill="#c8304e" textLength="9" lengthAdjust="spacingAndGlyphs" >100%</text>
<line x1="752" y1="91.4" x2="822" y2="91.4" stroke="#444" stroke-width="1.4"/>
<path d="M750.7,91.4L760.2,88.80000000000001L760.2,94.0z" fill="#141414"/>
<path d="M823.3,91.4L813.8,88.80000000000001L813.8,94.0z" fill="#141414"/>
<line x1="840.6" y1="110" x2="840.6" y2="274" stroke="#444" stroke-width="1.4"/>
<path d="M840.6,108.6L838.0,118.1L843.2,118.1z" fill="#141414"/>
<path d="M840.6,275.4L838.0,265.9L843.2,265.9z" fill="#141414"/>
<line x1="902.9" y1="140" x2="902.9" y2="612" stroke="#444" stroke-width="1.4"/>
<path d="M902.9,138.1L900.3,147.6L905.5,147.6z" fill="#141414"/>
<path d="M902.9,614L900.3,604.5L905.5,604.5z" fill="#141414"/>
<line x1="697" y1="658.3" x2="879" y2="658.3" stroke="#444" stroke-width="1.4"/>
<path d="M695.7,658.3L705.2,655.6999999999999L705.2,660.9z" fill="#141414"/>
<path d="M880.4,658.3L870.9,655.6999999999999L870.9,660.9z" fill="#141414"/>
<path d="M749.50,112.00A12,12 0 0 1 761.50,100.00H813.70A12,12 0 0 1 825.70,112.00V276.06A5,5 0 0 0 828.69,280.64A102,102 0 0 1 828.69,467.36A5,5 0 0 0 825.70,471.94V636.30A12,12 0 0 1 813.70,648.30H761.50A12,12 0 0 1 749.50,636.30V471.94A5,5 0 0 0 746.51,467.36A102,102 0 0 1 746.51,280.64A5,5 0 0 0 749.50,276.06Z" fill="#646a70"/>
<path d="M758.40,113.40A5,5 0 0 1 763.40,108.40H812.20A5,5 0 0 1 817.20,113.40V282.02A5,5 0 0 0 820.45,286.71A93.2,93.2 0 0 1 820.45,461.29A5,5 0 0 0 817.20,465.98V635.00A5,5 0 0 1 812.20,640.00H763.40A5,5 0 0 1 758.40,635.00V465.98A5,5 0 0 0 755.15,461.29A93.2,93.2 0 0 1 755.15,286.71A5,5 0 0 0 758.40,282.02Z" fill="#eedbba"/>
<circle cx="788" cy="130.5" r="10.3" fill="#fff"/>
<circle cx="787.2" cy="617.4" r="10" fill="#fff"/>
<circle cx="788.9" cy="374.5" r="75" fill="none" stroke="#58584f" stroke-width="1.8"/>
<circle cx="788.9" cy="374.5" r="61.5" fill="none" stroke="#58584f" stroke-width="1.8"/>
<circle cx="788.9" cy="374.5" r="49" fill="none" stroke="#58584f" stroke-width="1.8"/>
<circle cx="788.9" cy="374.5" r="37" fill="none" stroke="#58584f" stroke-width="1.8"/>
<rect x="782.5" y="296" width="12.5" height="156" fill="#eedbba"/>
<text transform="translate(788.70,299.50) rotate(-90)" text-anchor="middle" dominant-baseline="central" font-size="4.8" font-weight="bold" fill="#58584f" >15</text>
<text transform="translate(788.70,449.50) rotate(-90)" text-anchor="middle" dominant-baseline="central" font-size="4.8" font-weight="bold" fill="#58584f" >8"</text>
<text transform="translate(788.70,313.00) rotate(-90)" text-anchor="middle" dominant-baseline="central" font-size="4.8" font-weight="bold" fill="#58584f" >12.5</text>
<text transform="translate(788.70,436.00) rotate(-90)" text-anchor="middle" dominant-baseline="central" font-size="4.8" font-weight="bold" fill="#58584f" >7"</text>
<text transform="translate(788.70,325.50) rotate(-90)" text-anchor="middle" dominant-baseline="central" font-size="4.8" font-weight="bold" fill="#58584f" >10</text>
<text transform="translate(788.70,423.50) rotate(-90)" text-anchor="middle" dominant-baseline="central" font-size="4.8" font-weight="bold" fill="#58584f" >6"</text>
<text transform="translate(788.70,337.50) rotate(-90)" text-anchor="middle" dominant-baseline="central" font-size="4.8" font-weight="bold" fill="#58584f" >7.5</text>
<text transform="translate(788.70,411.50) rotate(-90)" text-anchor="middle" dominant-baseline="central" font-size="4.8" font-weight="bold" fill="#58584f" >5"</text>
<text transform="translate(788.70,290.50) rotate(-90)" text-anchor="middle" dominant-baseline="central" font-size="4.8" font-weight="bold" fill="#58584f" >cm</text>
<text transform="translate(788.70,462.50) rotate(-90)" text-anchor="middle" dominant-baseline="central" font-size="4.8" font-weight="bold" fill="#58584f" >inches</text>
<rect x="767.6" y="154.4" width="18" height="18" rx="3" fill="none" stroke="#58584f" stroke-width="1"/>
<rect x="789.9" y="154.4" width="18" height="18" rx="3" fill="none" stroke="#58584f" stroke-width="1"/>
<rect x="767.6" y="179.8" width="18" height="18" rx="3" fill="none" stroke="#58584f" stroke-width="1"/>
<rect x="789.9" y="179.8" width="18" height="18" rx="3" fill="none" stroke="#58584f" stroke-width="1"/>
<rect x="767.6" y="204" width="18" height="18" rx="3" fill="none" stroke="#58584f" stroke-width="1"/>
<rect x="789.9" y="204" width="18" height="18" rx="3" fill="none" stroke="#58584f" stroke-width="1"/>
<path d="M793,157.5L805,169.5M805,157.5L793,169.5" stroke="#58584f" stroke-width="1.1"/>
<path d="M770,183L783,195M772,190h10v5h-10z" stroke="#58584f" stroke-width="0.9" fill="none"/>
<path d="M793,195L805,183" stroke="#58584f" stroke-width="1.1"/><ellipse cx="799" cy="189" rx="3" ry="5" transform="rotate(45 799 189)" fill="#58584f"/>
<path d="M771,207h11v12h-11z" stroke="#58584f" stroke-width="0.9" fill="none"/><path d="M773,208v10M775,208v10M777,208v10M779,208v10" stroke="#58584f" stroke-width="0.8"/>
<path d="M793,219L799,209L805,219M795,214h8" stroke="#58584f" stroke-width="0.8" fill="none"/>
<path d="M771,158v6h4M777,158v6M772,168h10" stroke="#58584f" stroke-width="0.9" fill="none"/>
<text transform="translate(786.5,542.5) rotate(-90)" text-anchor="middle" font-family="Liberation Serif" font-style="italic" font-size="18" fill="#4a4c50" stroke="#4a4c50" stroke-width="0.5" textLength="104" lengthAdjust="spacingAndGlyphs">Baking  Mat</text>
<line x1="792.3" y1="489.8" x2="792.3" y2="591.4" stroke="#555" stroke-width="0.9"/>
<text transform="translate(804.3,539) rotate(-90)" text-anchor="middle" font-size="9.5" fill="#555" textLength="77" lengthAdjust="spacingAndGlyphs">Platinum Silicone</text>
<text transform="translate(783.90,73.50) rotate(-90)" font-size="23.5" textLength="43.7" lengthAdjust="spacingAndGlyphs"><tspan fill="#141414">8cm</tspan></text>
<text transform="translate(809.60,71.00) rotate(-90)" font-size="23.5" textLength="36.0" lengthAdjust="spacingAndGlyphs"><tspan fill="#d42a2a">3in</tspan></text>
<text transform="translate(741.20,247.60) rotate(-90)" font-size="24" textLength="103.6" lengthAdjust="spacingAndGlyphs"><tspan fill="#d42a2a">0.4in </tspan><tspan fill="#141414">1cm</tspan></text>
<text transform="translate(869.50,242.60) rotate(-90)" font-size="24" textLength="100.6" lengthAdjust="spacingAndGlyphs"><tspan fill="#141414">18cm </tspan><tspan fill="#d42a2a">7in</tspan></text>
<text transform="translate(934.50,418.50) rotate(-90)" font-size="24.5" textLength="110.2" lengthAdjust="spacingAndGlyphs"><tspan fill="#141414">56cm </tspan><tspan fill="#d42a2a">22in</tspan></text>
<text transform="translate(775.50,734.40) rotate(-90)" font-size="24" textLength="59.2" lengthAdjust="spacingAndGlyphs"><tspan fill="#141414">21cm</tspan></text>
<text transform="translate(800.00,728.70) rotate(-90)" font-size="24" textLength="53.1" lengthAdjust="spacingAndGlyphs"><tspan fill="#d42a2a">8.3in</tspan></text>
<path d="M7.3,759.3H262.6Q266.6,759.3 266.6,763.3V884A37,44 0 0 1 229.6,928.5H47.5A44.3,42 0 0 1 3.2,886.5V763.3Q3.2,759.3 7.3,759.3Z" fill="#8be3f4"/>
<circle cx="236" cy="783.5" r="10.9" fill="#fff"/>
<path d="M372.4,781.0L382.6,763.2L393.9,784.4L405.2,763.2L416.5,784.4L427.8,763.2L439.1,784.4L450.4,763.2L461.7,784.4L473.0,763.2L484.3,784.4L495.6,763.2L506.9,784.4L518.2,763.2L529.5,784.4L540.8,763.2L552.1,784.4L563.4,763.2L574.7,784.4L586.0,763.2L597.3,784.4L608.6,763.2L618.7,781.0L618.7,912.0L614.3,927.0L608.6,909.6L603.0,927.0L597.3,909.6L591.7,927.0L586.0,909.6L580.4,927.0L574.7,909.6L569.1,927.0L563.4,909.6L557.8,927.0L552.1,909.6L546.5,927.0L540.8,909.6L535.2,927.0L529.5,909.6L523.9,927.0L518.2,909.6L512.6,927.0L506.9,909.6L501.3,927.0L495.6,909.6L490.0,927.0L484.3,909.6L478.7,927.0L473.0,909.6L467.4,927.0L461.7,909.6L456.1,927.0L450.4,909.6L444.8,927.0L439.1,909.6L433.5,927.0L427.8,909.6L422.2,927.0L416.5,909.6L410.9,927.0L405.2,909.6L399.6,927.0L393.9,909.6L388.3,927.0L382.6,909.6L377.0,927.0L372.4,912.0Z" fill="#8be3f4" stroke="#8be3f4" stroke-width="1.7" stroke-linejoin="round"/>
<circle cx="389.8" cy="842.3" r="11.8" fill="#fff"/>
<path d="M749,760.2H919C952,760.2 975.1,778 975.1,799V849C975.1,885 930,920 880,924.5C862,927 846,929.3 830,929.3C800,929.3 765,925.5 748,915.5Q737.6,909 737.6,897V772Q737.6,760.2 749,760.2Z" fill="#8be3f4"/>
<circle cx="756.4" cy="844.8" r="10" fill="#fff"/>
<line x1="283.2" y1="758.6" x2="283.2" y2="927.2" stroke="#141414" stroke-width="1.9"/><path d="M283.2,759.2L279.4,765.2L287.0,765.2z" fill="#141414"/><path d="M283.2,926.6L279.4,920.6L287.0,920.6z" fill="#141414"/><line x1="278.2" y1="758.6" x2="288.2" y2="758.6" stroke="#141414" stroke-width="1.9"/><line x1="278.2" y1="927.2" x2="288.2" y2="927.2" stroke="#141414" stroke-width="1.9"/>
<line x1="2.0" y1="945.2" x2="265.6" y2="945.2" stroke="#141414" stroke-width="1.9"/><path d="M2.6,945.2L8.6,941.4000000000001L8.6,949.0z" fill="#141414"/><path d="M265.0,945.2L259.0,941.4000000000001L259.0,949.0z" fill="#141414"/><line x1="2.0" y1="940.2" x2="2.0" y2="950.2" stroke="#141414" stroke-width="1.9"/><line x1="265.6" y1="940.2" x2="265.6" y2="950.2" stroke="#141414" stroke-width="1.9"/>
<line x1="636.5" y1="760.5" x2="636.5" y2="927.3" stroke="#141414" stroke-width="1.9"/><path d="M636.5,761.1L632.7,767.1L640.3,767.1z" fill="#141414"/><path d="M636.5,926.6999999999999L632.7,920.6999999999999L640.3,920.6999999999999z" fill="#141414"/><line x1="631.5" y1="760.5" x2="641.5" y2="760.5" stroke="#141414" stroke-width="1.9"/><line x1="631.5" y1="927.3" x2="641.5" y2="927.3" stroke="#141414" stroke-width="1.9"/>
<line x1="371.5" y1="945.2" x2="618.5" y2="945.2" stroke="#141414" stroke-width="1.9"/><path d="M372.1,945.2L378.1,941.4000000000001L378.1,949.0z" fill="#141414"/><path d="M617.9,945.2L611.9,941.4000000000001L611.9,949.0z" fill="#141414"/><line x1="371.5" y1="940.2" x2="371.5" y2="950.2" stroke="#141414" stroke-width="1.9"/><line x1="618.5" y1="940.2" x2="618.5" y2="950.2" stroke="#141414" stroke-width="1.9"/>
<line x1="985.2" y1="759.5" x2="985.2" y2="926.8" stroke="#141414" stroke-width="1.9"/><path d="M985.2,760.1L981.4000000000001,766.1L989.0,766.1z" fill="#141414"/><path d="M985.2,926.1999999999999L981.4000000000001,920.1999999999999L989.0,920.1999999999999z" fill="#141414"/><line x1="980.2" y1="759.5" x2="990.2" y2="759.5" stroke="#141414" stroke-width="1.9"/><line x1="980.2" y1="926.8" x2="990.2" y2="926.8" stroke="#141414" stroke-width="1.9"/>
<line x1="737.8" y1="945.2" x2="974.5" y2="945.2" stroke="#141414" stroke-width="1.9"/><path d="M738.4,945.2L744.4,941.4000000000001L744.4,949.0z" fill="#141414"/><path d="M973.9,945.2L967.9,941.4000000000001L967.9,949.0z" fill="#141414"/><line x1="737.8" y1="940.2" x2="737.8" y2="950.2" stroke="#141414" stroke-width="1.9"/><line x1="974.5" y1="940.2" x2="974.5" y2="950.2" stroke="#141414" stroke-width="1.9"/>
<text x="37.7" y="984.4" font-size="28" fill="#141414" stroke="#141414" stroke-width="0.3" textLength="199.5" lengthAdjust="spacingAndGlyphs">11.8cm / 4.6inch</text>
<text x="397.7" y="984.4" font-size="28" fill="#141414" stroke="#141414" stroke-width="0.3" textLength="195.2" lengthAdjust="spacingAndGlyphs">11.1cm / 4.4inch</text>
<text x="762.4" y="984.4" font-size="28" fill="#141414" stroke="#141414" stroke-width="0.3" textLength="182.2" lengthAdjust="spacingAndGlyphs">12cm / 4.7inch</text>
<text transform="translate(296.3,759) rotate(90)" font-size="28" fill="#141414" stroke="#141414" stroke-width="0.25" textLength="168.6" lengthAdjust="spacingAndGlyphs">8cm / 3.2inch</text>
<text transform="translate(650.9,761) rotate(90)" font-size="28" fill="#141414" stroke="#141414" stroke-width="0.25" textLength="172.2" lengthAdjust="spacingAndGlyphs">7.5cm / 3inch</text>
<text transform="translate(997.5,761.2) rotate(90)" font-size="28" fill="#141414" stroke="#141414" stroke-width="0.25" textLength="193.4" lengthAdjust="spacingAndGlyphs">8.6cm / 3.4inch</text>
</svg></body></html>
